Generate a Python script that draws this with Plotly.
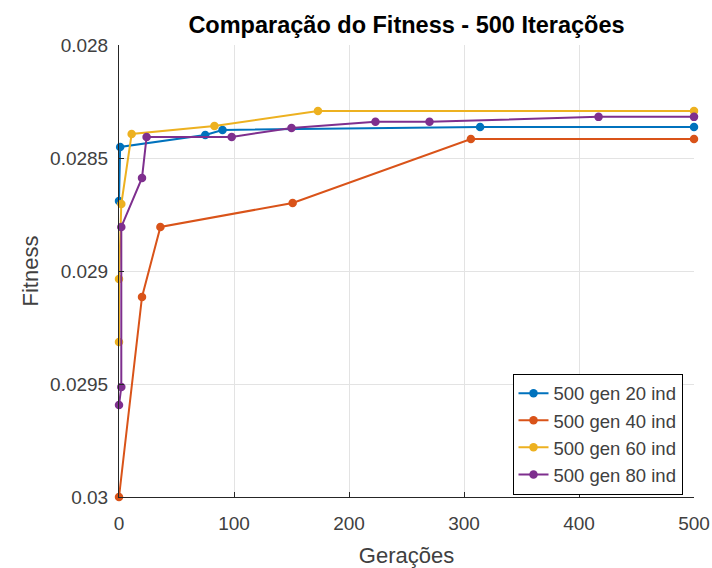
import plotly.graph_objects as go

# Data (Gerações, Fitness)
x20 = [0, 1, 75, 90, 314, 500]
y20 = [0.02869, 0.028451, 0.028398, 0.028376, 0.028363, 0.028363]

x40 = [0, 20, 36, 151, 306, 500]
y40 = [0.03, 0.029115, 0.028805, 0.028699, 0.028416, 0.028416]

x60 = [0, 0, 2, 11, 83, 173, 500]
y60 = [0.029314, 0.029035, 0.028704, 0.028394, 0.028358, 0.028292, 0.028292]

x80 = [0, 2, 2, 20, 24, 98, 150, 223, 270, 417, 500]
y80 = [0.029593, 0.029513, 0.028805, 0.028588, 0.028407, 0.028407,
       0.028367, 0.02834, 0.02834, 0.028318, 0.028318]

names = ["500 gen 20 ind", "500 gen 40 ind", "500 gen 60 ind", "500 gen 80 ind"]
colors = ["#0072BD", "#D95319", "#EDB120", "#7E2F8E"]

yticks = [0.028, 0.0285, 0.029, 0.0295, 0.03]
yticklabels = ["0.028", "0.0285", "0.029", "0.0295", "0.03"]
xticks = [0, 100, 200, 300, 400, 500]

FONT = "Liberation Sans, Arial, sans-serif"
TXT = "#404040"
W, H = 712, 568

fig = go.Figure()
for xs, ys, nm, c in zip([x20, x40, x60, x80], [y20, y40, y60, y80], names, colors):
    fig.add_trace(go.Scatter(x=xs, y=ys, mode="lines+markers", name=nm,
                             line=dict(color=c, width=2),
                             marker=dict(color=c, size=8.5),
                             cliponaxis=False))

fig.update_layout(
    width=W, height=H,
    margin=dict(l=119, r=18, t=45, b=71),
    paper_bgcolor="white", plot_bgcolor="white",
    font=dict(family=FONT, color=TXT),
    title=dict(text="<b>Comparação do Fitness - 500 Iterações</b>",
               x=(119 + 694) / 2 / W, xanchor="center",
               y=1 - 25 / H, yanchor="middle",
               font=dict(size=23.5, color="black", family=FONT)),
    legend=dict(x=0.98, xanchor="right", y=0.005, yanchor="bottom",
                bgcolor="white", bordercolor="black", borderwidth=1,
                font=dict(size=18.5, color=TXT),
                tracegroupgap=0),
    showlegend=True,
)
fig.update_xaxes(range=[0, 500], tickvals=xticks, showgrid=True,
                 gridcolor="#e3e3e3", gridwidth=1,
                 showline=True, linecolor="#262626", linewidth=1,
                 ticks="inside", ticklen=5, tickcolor="#262626",
                 tickfont=dict(size=19, color=TXT), ticklabelstandoff=9,
                 ticklabeloverflow="allow",
                 title=dict(text="Gerações", font=dict(size=22, color=TXT), standoff=14),
                 zeroline=False, mirror=False, automargin=False)
fig.update_yaxes(range=[0.03, 0.028], tickvals=yticks, ticktext=yticklabels,
                 showgrid=True, gridcolor="#e3e3e3", gridwidth=1,
                 showline=True, linecolor="#262626", linewidth=1,
                 ticks="inside", ticklen=5, tickcolor="#262626",
                 tickfont=dict(size=19, color=TXT), ticklabelstandoff=6,
                 title=dict(text="Fitness", font=dict(size=22, color=TXT), standoff=5),
                 zeroline=False, mirror=False, automargin=False)

fig.write_html("out.html",
               config={"displayModeBar": False},
               post_script="document.body.style.margin='0';document.body.style.overflow='hidden';")
